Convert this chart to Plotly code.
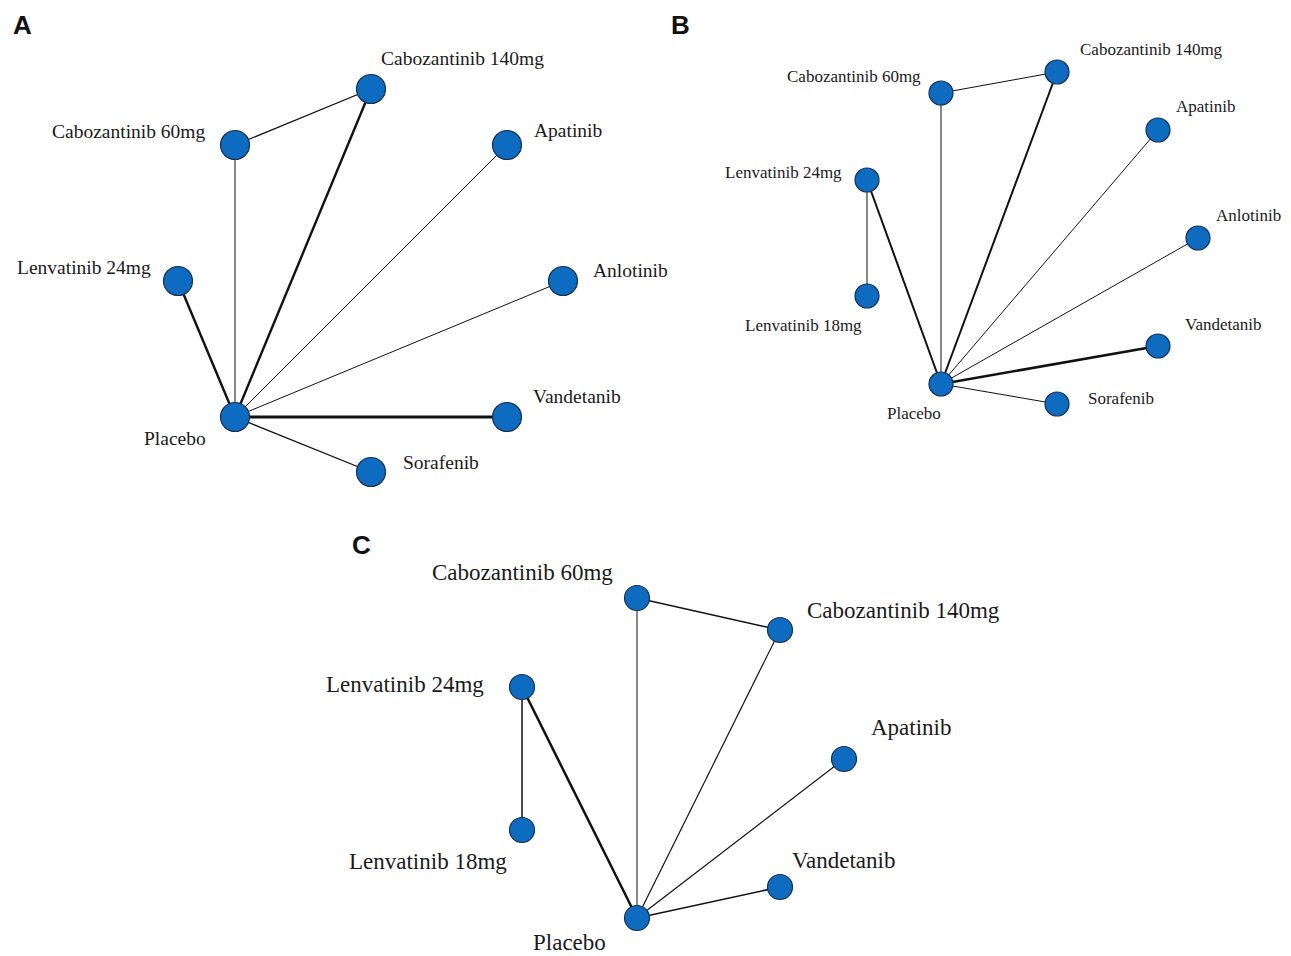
import plotly.graph_objects as go

# ---------------- data ----------------
# Panel A
a_names = ["Cabozantinib 140mg", "Cabozantinib 60mg", "Apatinib", "Lenvatinib 24mg",
           "Anlotinib", "Placebo", "Vandetanib", "Sorafenib"]
a_x = [371, 235, 507, 178, 563, 235, 507, 371]
a_y = [89, 145, 145, 281, 281, 417, 417, 472]
a_edges = [("Cabozantinib 60mg", "Cabozantinib 140mg", 1.3),
           ("Cabozantinib 60mg", "Placebo", 1.0),
           ("Cabozantinib 140mg", "Placebo", 2.4),
           ("Apatinib", "Placebo", 1.0),
           ("Anlotinib", "Placebo", 1.0),
           ("Lenvatinib 24mg", "Placebo", 2.4),
           ("Vandetanib", "Placebo", 3.0),
           ("Sorafenib", "Placebo", 1.3)]

# Panel B
b_names = ["Cabozantinib 140mg", "Cabozantinib 60mg", "Apatinib", "Lenvatinib 24mg",
           "Anlotinib", "Lenvatinib 18mg", "Vandetanib", "Placebo", "Sorafenib"]
b_x = [1057, 941, 1158, 867, 1198, 867, 1158, 941, 1057]
b_y = [72, 93, 130, 180, 238, 296, 346, 384, 404]
b_edges = [("Cabozantinib 60mg", "Cabozantinib 140mg", 1.0),
           ("Cabozantinib 60mg", "Placebo", 1.0),
           ("Cabozantinib 140mg", "Placebo", 2.0),
           ("Apatinib", "Placebo", 1.0),
           ("Anlotinib", "Placebo", 1.0),
           ("Lenvatinib 24mg", "Placebo", 2.0),
           ("Lenvatinib 24mg", "Lenvatinib 18mg", 1.0),
           ("Vandetanib", "Placebo", 2.6),
           ("Sorafenib", "Placebo", 1.0)]

# Panel C
c_names = ["Cabozantinib 60mg", "Cabozantinib 140mg", "Lenvatinib 24mg", "Apatinib",
           "Lenvatinib 18mg", "Vandetanib", "Placebo"]
c_x = [637, 780, 522, 844, 522, 780, 637]
c_y = [598, 630, 687, 759, 830, 887, 918]
c_edges = [("Cabozantinib 60mg", "Cabozantinib 140mg", 1.5),
           ("Cabozantinib 60mg", "Placebo", 1.0),
           ("Cabozantinib 140mg", "Placebo", 1.2),
           ("Lenvatinib 24mg", "Lenvatinib 18mg", 1.5),
           ("Lenvatinib 24mg", "Placebo", 2.5),
           ("Apatinib", "Placebo", 1.2),
           ("Vandetanib", "Placebo", 1.6)]

panel_letters = ["A", "B", "C"]

# ---------------- styling / layout ----------------
NODE_FILL = "#0d6cc0"
NODE_LINE = "#1b2f52"
FONT = "Liberation Serif, Times New Roman, serif"

# label positions (pixel offsets of label centre from node centre)
a_lab = {"Cabozantinib 140mg": (91, -31), "Cabozantinib 60mg": (-106, -14),
         "Apatinib": (61, -15), "Lenvatinib 24mg": (-94, -14), "Anlotinib": (67, -11),
         "Placebo": (-60, 21), "Vandetanib": (70, -21), "Sorafenib": (70, -10)}
b_lab = {"Cabozantinib 140mg": (94, -23), "Cabozantinib 60mg": (-87, -17),
         "Apatinib": (48, -24), "Lenvatinib 24mg": (-84, -8), "Anlotinib": (50, -23),
         "Lenvatinib 18mg": (-64, 29), "Vandetanib": (65, -22), "Placebo": (-27, 29),
         "Sorafenib": (64, -6)}
c_lab = {"Cabozantinib 60mg": (-115, -26), "Cabozantinib 140mg": (123, -20),
         "Lenvatinib 24mg": (-117, -3), "Apatinib": (67, -32), "Lenvatinib 18mg": (-94, 31),
         "Vandetanib": (63, -27), "Placebo": (-68, 24)}

panels = [
    (a_names, a_x, a_y, a_edges, a_lab, 29, 19.5),
    (b_names, b_x, b_y, b_edges, b_lab, 24, 17),
    (c_names, c_x, c_y, c_edges, c_lab, 25, 23),
]
letter_pos = [(22, 25), (680, 25), (361, 545)]

fig = go.Figure()
annotations = []

for names, xs, ys, edges, labs, msize, fsize in panels:
    pos = {n: (x, y) for n, x, y in zip(names, xs, ys)}
    for n1, n2, w in edges:
        x1, y1 = pos[n1]
        x2, y2 = pos[n2]
        fig.add_trace(go.Scatter(x=[x1, x2], y=[y1, y2], mode="lines",
                                 line=dict(color="#111111", width=w),
                                 hoverinfo="skip", showlegend=False))
    fig.add_trace(go.Scatter(x=xs, y=ys, mode="markers",
                             marker=dict(size=msize, color=NODE_FILL,
                                         line=dict(color=NODE_LINE, width=1.2)),
                             text=names, hoverinfo="text", showlegend=False))
    for n, x, y in zip(names, xs, ys):
        dx, dy = labs[n]
        annotations.append(dict(x=x + dx, y=y + dy, xref="x", yref="y", text=n,
                                showarrow=False, xanchor="center", yanchor="middle",
                                font=dict(family=FONT, size=fsize, color="#1a1a1a")))

for letter, (lx, ly) in zip(panel_letters, letter_pos):
    annotations.append(dict(x=lx, y=ly, xref="x", yref="y", text="<b>%s</b>" % letter,
                            showarrow=False, xanchor="center", yanchor="middle",
                            font=dict(family="Liberation Sans, Arial, sans-serif",
                                      size=26, color="#111111")))

fig.update_layout(
    width=1291, height=956,
    margin=dict(l=0, r=0, t=0, b=0),
    paper_bgcolor="white", plot_bgcolor="white",
    xaxis=dict(range=[0, 1291], visible=False, fixedrange=True),
    yaxis=dict(range=[956, 0], visible=False, fixedrange=True),
    annotations=annotations,
)

fig.write_html("out.html", config={"displayModeBar": False},
               post_script="document.body.style.margin='0';document.body.style.overflow='hidden';")
